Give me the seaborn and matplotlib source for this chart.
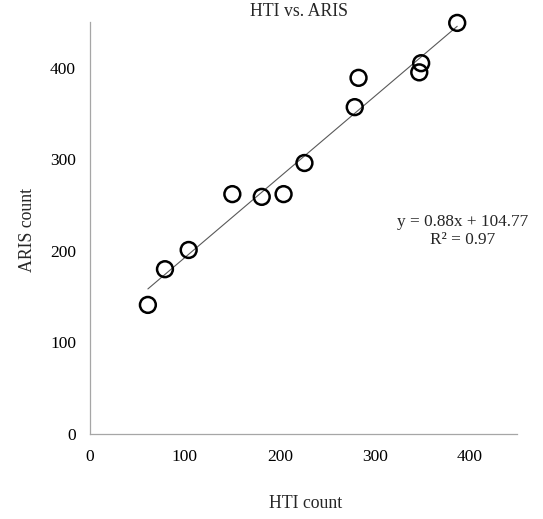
import numpy as np
import matplotlib
matplotlib.use("Agg")
import matplotlib.pyplot as plt
import seaborn as sns

# Paired counts per survey
hti_count = [61, 79, 104, 150, 181, 204, 226, 279, 283, 347, 349, 387]
aris_count = [141, 180, 201, 262, 259, 262, 296, 357, 389, 395, 405, 449]

# Linear trend reported on the chart
slope = 0.88
intercept = 104.77
r_squared = 0.97

x_ticks = [0, 100, 200, 300, 400]
y_ticks = [0, 100, 200, 300, 400]

sns.set_theme(style="white")
plt.rcParams["font.family"] = ["Liberation Serif", "DejaVu Serif"]

fig = plt.figure(figsize=(5.43, 5.19), dpi=100)
ax = fig.add_axes([90 / 543, 1 - 434 / 519, 427 / 543, 412 / 519])

# Trendline across the observed range
xs = np.array([min(hti_count), max(hti_count)])
ax.plot(xs, slope * xs + intercept, color="#595959", lw=0.8, zorder=1)

sns.scatterplot(x=hti_count, y=aris_count, ax=ax, s=130, marker="o",
                facecolor="none", edgecolor="black", linewidth=1.8, zorder=2,
                clip_on=False)

ax.set_xlim(0, 450)
ax.set_ylim(0, 450)
ax.set_xticks(x_ticks)
ax.set_yticks(y_ticks)
ax.tick_params(axis="both", direction="out", length=5, width=0.8,
               color="#a6a6a6", labelsize=12.5, labelcolor="black")
ax.tick_params(axis="x", pad=6)
ax.tick_params(axis="y", pad=5)
for side in ("top", "right"):
    ax.spines[side].set_visible(False)
for side in ("left", "bottom"):
    ax.spines[side].set_color("#a6a6a6")
    ax.spines[side].set_linewidth(0.9)

fig.text(299 / 543, 1 - 12 / 519, "HTI vs. ARIS", ha="center", va="center",
         fontsize=12.8)
fig.text(306 / 543, 1 - 504 / 519, "HTI count", ha="center", va="center",
         fontsize=12.8)
fig.text(27 / 543, 1 - 230 / 519, "ARIS count", ha="center", va="center",
         rotation=90, fontsize=12.8)
fig.text(463 / 543, 1 - 231 / 519,
         f"y = {slope:.2f}x + {intercept:.2f}\nR² = {r_squared:.2f}",
         ha="center", va="center", fontsize=12.4, linespacing=1.1)

fig.savefig("out.png", dpi=100)
